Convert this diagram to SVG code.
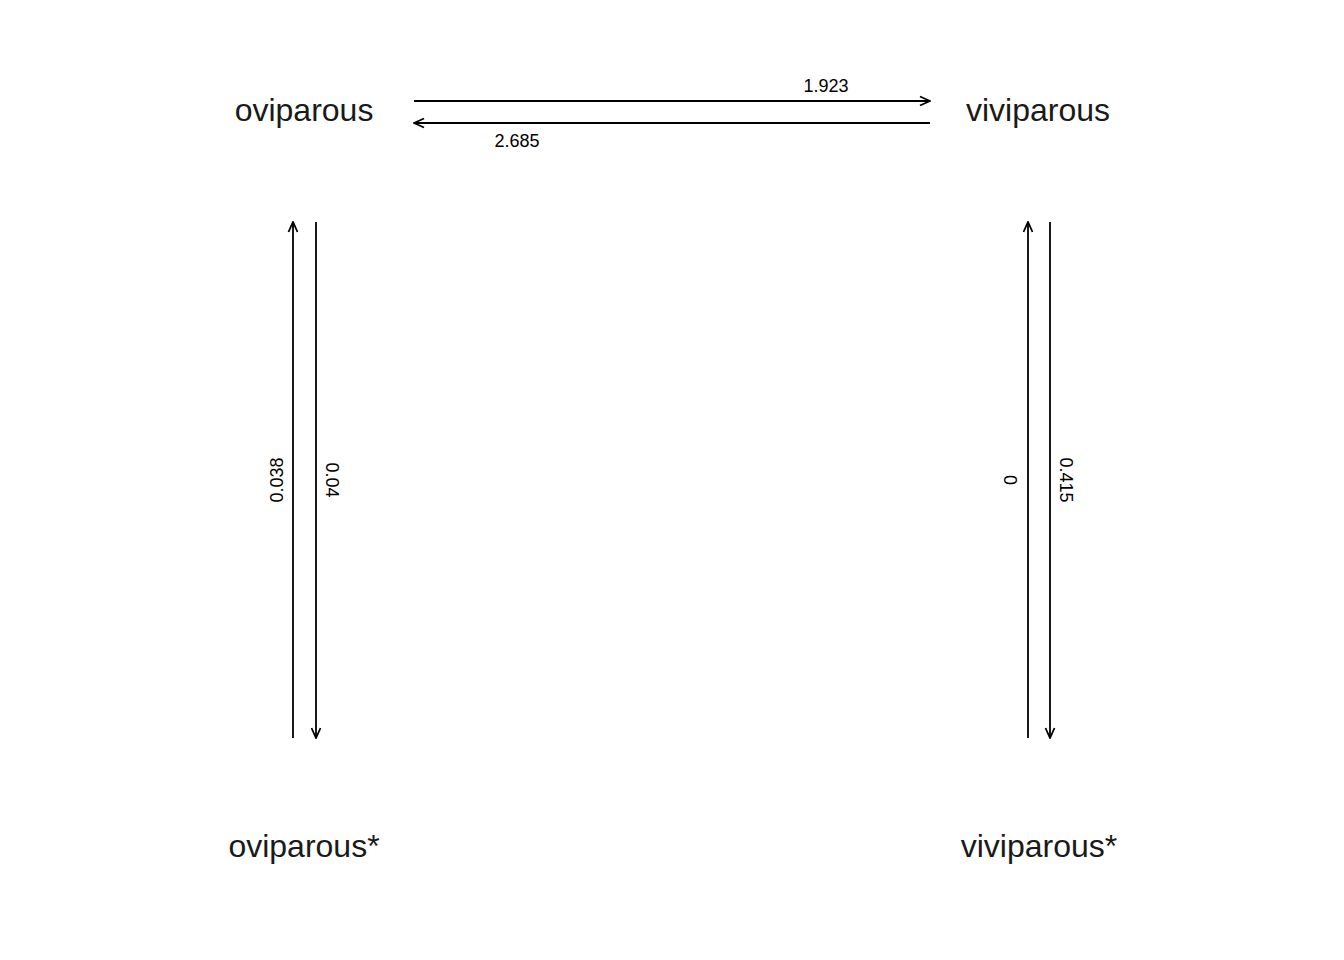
<svg xmlns="http://www.w3.org/2000/svg" width="1344" height="960" viewBox="0 0 1344 960">
<defs>
<marker id="ah" viewBox="0 0 12 12" refX="11" refY="6" markerWidth="12" markerHeight="12" markerUnits="userSpaceOnUse" orient="auto">
<polyline points="1,1.5 11,6 1,10.5" fill="none" stroke="#000" stroke-width="1.8"/>
</marker>
</defs>
<style>
.node{font-family:"Liberation Sans",Arial,sans-serif;font-size:32px;fill:#1a1a1a;text-anchor:middle}
.lbl{font-family:"Liberation Sans",Arial,sans-serif;font-size:18px;fill:#000;text-anchor:middle}
.e{stroke:#000;stroke-width:1.8;fill:none;marker-end:url(#ah)}
</style>
<rect width="1344" height="960" fill="#fff"/>
<g id="n-oviparous"><text class="node" x="304" y="121">oviparous</text></g>
<g id="n-viviparous"><text class="node" x="1038" y="121">viviparous</text></g>
<g id="n-oviparous-star"><text class="node" x="304" y="857">oviparous*</text></g>
<g id="n-viviparous-star"><text class="node" x="1039" y="857">viviparous*</text></g>
<g id="connectors">
<line class="e" x1="414" y1="101" x2="930" y2="101"/>
<line class="e" x1="930" y1="123" x2="414" y2="123"/>
<line class="e" x1="293" y1="738" x2="293" y2="222"/>
<line class="e" x1="316" y1="222" x2="316" y2="738"/>
<line class="e" x1="1028" y1="738" x2="1028" y2="222"/>
<line class="e" x1="1050" y1="222" x2="1050" y2="738"/>
<text class="lbl" x="826" y="92">1.923</text>
<text class="lbl" x="517" y="147">2.685</text>
<text class="lbl" transform="translate(283,480) rotate(-90)">0.038</text>
<text class="lbl" transform="translate(326,480) rotate(90)">0.04</text>
<text class="lbl" transform="translate(1017,480) rotate(-90)">0</text>
<text class="lbl" transform="translate(1060,480) rotate(90)">0.415</text>
</g>
</svg>
